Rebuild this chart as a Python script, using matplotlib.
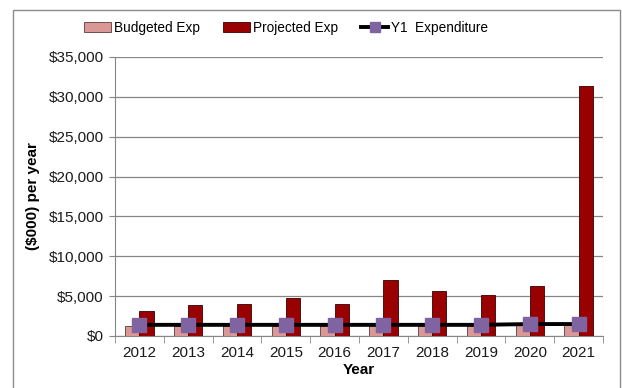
import matplotlib.pyplot as plt
import numpy as np
from matplotlib.patches import Rectangle
from matplotlib.ticker import FuncFormatter, FixedLocator

plt.rcParams['font.family'] = ['Liberation Sans', 'DejaVu Sans']

years = ["2012", "2013", "2014", "2015", "2016", "2017", "2018", "2019", "2020", "2021"]
budgeted = [1300, 1300, 1300, 1300, 1300, 1300, 1300, 1300, 1350, 1350]
projected = [3150, 3900, 4000, 4750, 4000, 7050, 5700, 5100, 6300, 31400]
y1_exp = [1400, 1400, 1400, 1400, 1400, 1400, 1400, 1400, 1500, 1500]

fig = plt.figure(figsize=(6.22, 3.88), dpi=100)
ax = fig.add_axes([115 / 622, 52 / 388, 488 / 622, 279 / 388])

# grey frame round the whole chart
fig.patches.append(Rectangle((13 / 622, -0.1), 607 / 622, 1.074, transform=fig.transFigure,
                             fill=False, edgecolor='#8c8c8c', linewidth=1))

x = np.arange(len(years))
w = 0.29
b1 = ax.bar(x - w / 2, budgeted, w, color='#d99795', edgecolor='#5a3a3a', linewidth=0.6,
            label='Budgeted Exp', zorder=3)
b2 = ax.bar(x + w / 2, projected, w, color='#990000', edgecolor='#3a0000', linewidth=0.6,
            label='Projected Exp', zorder=3)
ln, = ax.plot(x, y1_exp, color='black', linewidth=2.8, marker='s', markersize=10,
              markerfacecolor='#8064a2', markeredgecolor='#8064a2', label='Y1  Expenditure', zorder=4)

ax.set_xlim(-0.5, len(years) - 0.5)
ax.set_ylim(0, 35000)
ax.set_yticks(np.arange(0, 35001, 5000))
ax.yaxis.set_major_formatter(FuncFormatter(lambda v, p: f"${int(v):,}"))
ax.grid(axis='y', color='#868686', linewidth=0.9, zorder=0)

ax.set_xticks(x)
ax.set_xticklabels(years)
ax.tick_params(axis='x', length=0, labelsize=11, pad=7, colors='#1a1a1a')
ax.xaxis.set_minor_locator(FixedLocator(np.arange(-0.5, len(years), 1.0)))
ax.tick_params(axis='x', which='minor', length=5, color='#868686', direction='out')
ax.tick_params(axis='y', length=4, labelsize=11, pad=4, labelcolor='#1a1a1a', color='#868686')

for side in ['top', 'right']:
    ax.spines[side].set_visible(False)
ax.spines['left'].set_color('#868686')
ax.spines['bottom'].set_color('#868686')

ax.set_xlabel('Year', fontsize=11, fontweight='bold', labelpad=2)
ax.set_ylabel('($000) per year', fontsize=11, fontweight='bold', labelpad=6)

ax.legend([b1, b2, ln], ['Budgeted Exp', 'Projected Exp', 'Y1  Expenditure'],
          loc='lower center', bbox_to_anchor=(0.35, 1.03), ncol=3, frameon=False,
          fontsize=9.8, handlelength=2.0, handletextpad=0.2, columnspacing=1.7,
          markerscale=0.7, borderaxespad=0.6)

fig.savefig('out.png', dpi=100)
